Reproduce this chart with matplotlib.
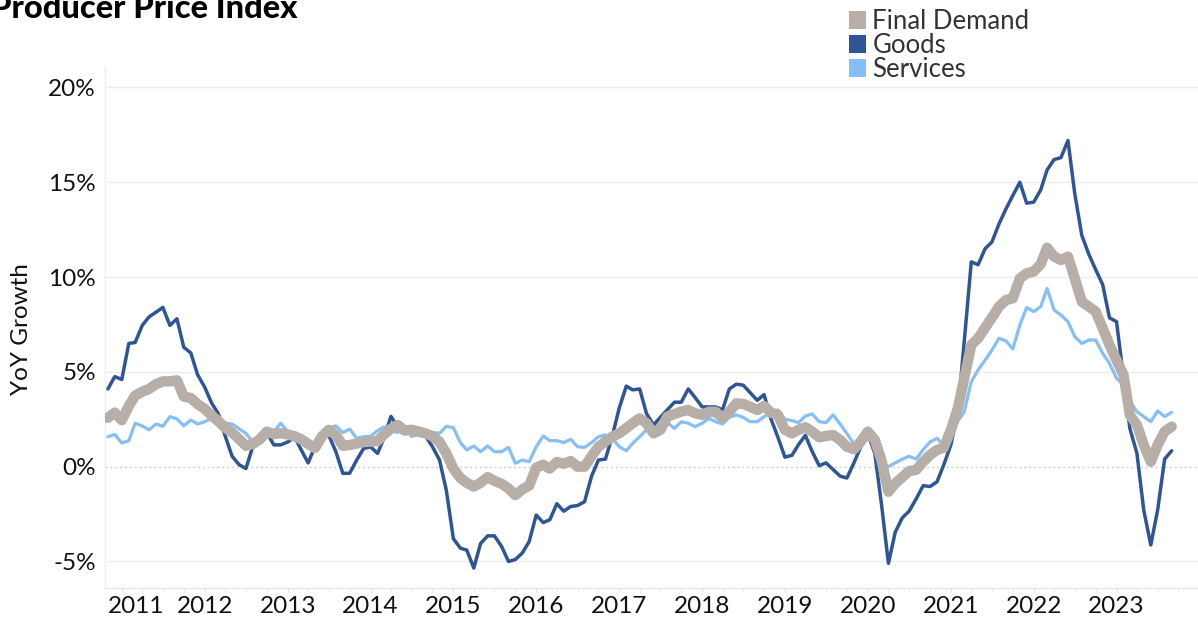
import matplotlib
matplotlib.use("Agg")
import matplotlib.pyplot as plt
import matplotlib.dates as mdates
from matplotlib.patches import Patch
from matplotlib.transforms import ScaledTranslation
import pandas as pd

# Monthly YoY growth (%), Nov 2010 - Sep 2023
start = "2010-11-01"
n_months = 155

final_demand = [
    2.58, 2.85, 2.45, 3.2, 3.75, 3.95, 4.1, 4.35, 4.5, 4.5, 4.55, 3.7,
    3.62, 3.3, 3.05, 2.7, 2.4, 2.05, 1.8, 1.45, 1.1, 1.2, 1.45, 1.85,
    1.72, 1.76, 1.7, 1.6, 1.45, 1.2, 0.98, 1.6, 1.94, 1.67, 1.1, 1.14,
    1.22, 1.3, 1.32, 1.35, 1.7, 2.0, 2.2, 1.9, 1.95, 1.85, 1.75, 1.6,
    1.3, 0.7, -0.1, -0.6, -0.85, -1.05, -0.85, -0.55, -0.75, -0.9, -1.15, -1.5,
    -1.2, -1.0, -0.05, 0.1, -0.1, 0.25, 0.15, 0.3, 0.0, 0.0, 0.55, 1.05,
    1.32, 1.58, 1.76, 2.03, 2.29, 2.55, 2.29, 1.76, 1.94, 2.64, 2.78, 2.9,
    2.99, 2.82, 2.73, 2.9, 2.9, 2.55, 2.9, 3.34, 3.31, 3.16, 2.99, 3.2,
    2.85, 2.73, 1.94, 1.76, 1.94, 2.08, 1.85, 1.55, 1.62, 1.67, 1.41, 1.05,
    0.92, 1.32, 1.85, 1.41, 0.35, -1.32, -0.88, -0.56, -0.23, -0.17, 0.26, 0.62,
    0.88, 1.0, 1.93, 3.08, 4.66, 6.42, 6.77, 7.33, 7.86, 8.44, 8.79, 8.88,
    9.93, 10.2, 10.29, 10.68, 11.55, 11.08, 10.9, 11.08, 9.93, 8.7, 8.44, 8.18,
    7.3, 6.42, 5.62, 4.83, 2.72, 2.2, 1.14, 0.26, 1.14, 1.85, 2.11,
]

goods = [
    4.1, 4.75, 4.6, 6.5, 6.55, 7.45, 7.9, 8.15, 8.4, 7.45, 7.8, 6.3,
    6.0, 4.85, 4.2, 3.35, 2.8, 1.6, 0.55, 0.1, -0.1, 1.1, 1.7, 1.8,
    1.15, 1.15, 1.3, 1.55, 0.9, 0.2, 1.05, 1.75, 1.65, 0.8, -0.35, -0.35,
    0.35, 0.95, 1.05, 0.7, 1.5, 2.65, 2.1, 2.1, 2.0, 1.85, 1.6, 1.05,
    0.35, -1.25, -3.8, -4.3, -4.4, -5.35, -4.05, -3.65, -3.65, -4.2, -5.0, -4.9,
    -4.55, -3.95, -2.55, -2.95, -2.8, -1.95, -2.35, -2.1, -2.05, -1.85, -0.5, 0.35,
    0.4, 1.6, 3.1, 4.25, 4.05, 4.1, 2.8, 2.2, 2.6, 3.0, 3.4, 3.4,
    4.1, 3.65, 3.15, 3.15, 3.15, 3.0, 4.1, 4.35, 4.3, 3.9, 3.5, 3.8,
    2.5, 1.55, 0.5, 0.6, 1.15, 1.65, 0.8, 0.05, 0.2, -0.15, -0.5, -0.6,
    0.2, 1.05, 1.75, 0.7, -1.95, -5.1, -3.45, -2.7, -2.35, -1.7, -1.0, -1.05,
    -0.8, 0.1, 1.15, 2.9, 6.6, 10.8, 10.65, 11.5, 11.85, 12.8, 13.6, 14.3,
    15.0, 13.9, 13.95, 14.6, 15.65, 16.2, 16.3, 17.2, 14.4, 12.2, 11.2, 10.4,
    9.6, 7.85, 7.65, 4.7, 2.0, 0.7, -2.3, -4.13, -2.3, 0.4, 0.84,
]

services = [
    1.58, 1.7, 1.25, 1.37, 2.29, 2.15, 1.94, 2.25, 2.13, 2.64, 2.52, 2.15,
    2.46, 2.25, 2.37, 2.55, 2.5, 2.3, 2.25, 2.0, 1.75, 1.3, 1.5, 1.6,
    1.85, 2.29, 1.85, 1.76, 1.58, 1.32, 1.2, 1.7, 2.06, 2.15, 1.8, 1.98,
    1.5, 1.58, 1.6, 1.9, 2.1, 1.9, 1.8, 2.0, 1.6, 1.7, 1.8, 1.8,
    1.76, 2.13, 2.05, 1.27, 0.88, 1.09, 0.79, 1.09, 0.79, 0.79, 1.02, 0.18,
    0.35, 0.26, 1.05, 1.62, 1.37, 1.37, 1.27, 1.44, 1.05, 1.02, 1.27, 1.58,
    1.67, 1.5, 1.05, 0.84, 1.23, 1.58, 1.94, 2.11, 2.25, 2.32, 2.02, 2.37,
    2.29, 2.11, 2.29, 2.55, 2.37, 2.25, 2.6, 2.73, 2.6, 2.37, 2.37, 2.64,
    2.82, 2.99, 2.5, 2.43, 2.32, 2.67, 2.78, 2.37, 2.32, 2.73, 2.25, 1.75,
    1.2, 1.4, 1.8, 1.25, 0.25, 0.0, 0.2, 0.4, 0.55, 0.4, 0.9, 1.3,
    1.5, 1.1, 1.7, 2.4, 2.9, 4.48, 5.1, 5.62, 6.15, 6.77, 6.63, 6.21,
    7.47, 8.39, 8.18, 8.44, 9.4, 8.26, 8.0, 7.65, 6.86, 6.5, 6.68, 6.68,
    5.98, 5.45, 4.66, 4.31, 3.43, 2.9, 2.64, 2.37, 2.94, 2.64, 2.87,
]

series_names = ["Final Demand", "Goods", "Services"]
year_labels = [str(y) for y in range(2011, 2024)]
y_ticks = [-5, 0, 5, 10, 15, 20]
y_tick_labels = ["-5%", "0%", "5%", "10%", "15%", "20%"]

C_FD = "#b8aea8"
C_GOODS = "#2e5596"
C_SERV = "#85bff8"

FONT = "Lato"
plt.rcParams["font.family"] = [FONT, "DejaVu Sans"]

dates = pd.date_range(start, periods=n_months, freq="MS")

W, H = 1198, 621
fig = plt.figure(figsize=(W / 100, H / 100), dpi=100)
ax = fig.add_axes([105 / W, (H - 588) / H, (W - 105) / W, (588 - 67) / H])

ax.plot(dates, services, color=C_SERV, lw=2.3, solid_joinstyle="round",
        solid_capstyle="round", zorder=3)
ax.plot(dates, goods, color=C_GOODS, lw=2.5, solid_joinstyle="round",
        solid_capstyle="round", zorder=4)
ax.plot(dates, final_demand, color=C_FD, lw=7.5, solid_joinstyle="round",
        solid_capstyle="round", zorder=5)

x0 = pd.Timestamp(start) - pd.Timedelta(days=13)
x1 = pd.Timestamp("2023-12-26")
ax.set_xlim(x0, x1)
ax.set_ylim(-6.4, 21.08)

# grid
for v in y_ticks:
    if v == 0:
        ax.axhline(0, color="#cfcfcf", lw=1.0, ls=(0, (1.5, 2)), zorder=1)
    else:
        ax.axhline(v, color="#ededed", lw=1.0, zorder=1)

ax.set_yticks(y_ticks)
ax.set_yticklabels(y_tick_labels)
ax.tick_params(axis="y", length=0, pad=6.5, labelsize=17.5, labelcolor="#111111")

year_pos = [pd.Timestamp(f"{y}-01-01") for y in range(2011, 2024)]
ax.set_xticks(year_pos)
ax.set_xticklabels(year_labels)
ax.xaxis.set_minor_locator(mdates.MonthLocator(bymonth=[4, 7, 10]))
ax.tick_params(axis="x", which="major", length=3, color="#e3e3e3", pad=3,
               labelsize=17.5, labelcolor="#111111")
ax.tick_params(axis="x", which="minor", length=3, color="#e3e3e3")
lbl0 = ax.get_xticklabels()[0]
lbl0.set_transform(lbl0.get_transform() + ScaledTranslation(0.14, 0, fig.dpi_scale_trans))

for s in ["top", "right"]:
    ax.spines[s].set_visible(False)
ax.spines["left"].set_color("#eeeeee")
ax.spines["bottom"].set_color("#e6e6e6")
ax.spines["left"].set_linewidth(1.0)
ax.spines["bottom"].set_linewidth(1.0)

fig.text(22 / W, 1 - 329 / H, "YoY Growth", rotation=90, ha="center", va="center",
         fontsize=17.5, color="#111111")

fig.text(-9 / W, 1 - 18 / H, "Producer Price Index", ha="left", va="baseline",
         fontsize=23.5, fontweight="black", color="#000000")

handles = [Patch(facecolor=C_FD, edgecolor="none"),
           Patch(facecolor=C_GOODS, edgecolor="none"),
           Patch(facecolor=C_SERV, edgecolor="none")]
fig.legend(handles, series_names, loc="upper left",
           bbox_to_anchor=(849 / W, 1 - 9 / H), frameon=False,
           fontsize=18.5, handlelength=0.66, handleheight=0.66, handletextpad=0.25,
           labelspacing=-0.04, borderaxespad=0, borderpad=0,
           labelcolor="#333333")

fig.savefig("out.png", dpi=100)
